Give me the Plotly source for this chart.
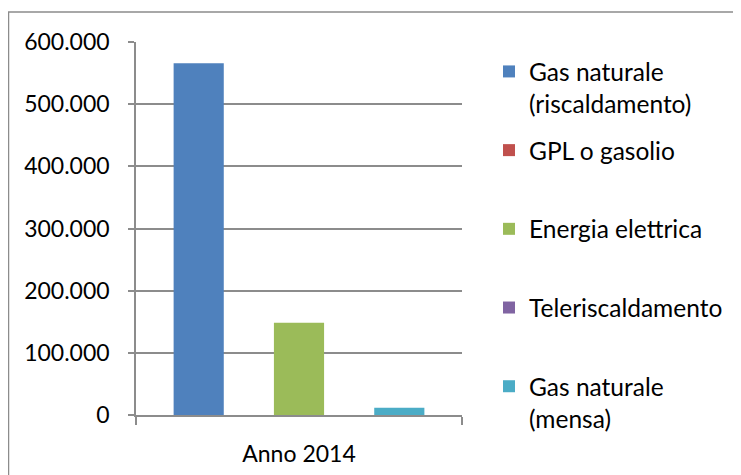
import plotly.graph_objects as go

categories = ["Anno 2014"]
series_names = [
    "Gas naturale<br>(riscaldamento)",
    "GPL o gasolio<br> ",
    "Energia elettrica<br> ",
    "Teleriscaldamento<br> ",
    "Gas naturale<br>(mensa)",
]
series_values = [566000, 0, 148500, 0, 11700]
series_colors = ["#4F81BD", "#C0504D", "#9BBB59", "#8064A2", "#4BACC6"]
y_ticks = [0, 100000, 200000, 300000, 400000, 500000, 600000]

FONT = "Lato"
OFF = 8  # page body margin
W, H = 741 - OFF, 475 - OFF
# plot area in window pixels
WL, WR, WT, WB = 136, 462, 42, 415
L, R, T, B = WL - OFF, WR - OFF, WT - OFF, WB - OFF

fig = go.Figure()
for i, (name, val, col) in enumerate(zip(series_names, series_values, series_colors)):
    fig.add_trace(go.Bar(
        x=categories, y=[val], name=name, legendgroup=f"g{i}",
        marker=dict(color=col, line=dict(width=0)),
    ))

def px_x(p):  # window px -> paper
    return (p - WL) / (WR - WL)

def px_y(p):
    return (WB - p) / (WB - WT)

fig.update_layout(
    width=W, height=H,
    margin=dict(l=L, r=W - R, t=T, b=H - B, pad=0, autoexpand=False),
    paper_bgcolor="white", plot_bgcolor="white",
    separators=",.",
    barmode="group", bargap=0.2308, bargroupgap=0,
    font=dict(family=FONT, size=23, color="#000000"),
    showlegend=True,
    legend=dict(
        x=px_x(489), y=1 - (49 - OFF) / H, yref="container",
        xanchor="left", yanchor="top", maxheight=1,
        tracegroupgap=12, valign="top", bgcolor="rgba(0,0,0,0)",
        font=dict(family=FONT, size=24.5, color="#000000"),
    ),
    xaxis=dict(
        showline=True, linecolor="#8C8C8C", linewidth=1.5,
        ticks="outside", tickson="boundaries", ticklen=8, tickcolor="#8C8C8C", tickwidth=1.5,
        showgrid=False, ticklabelstandoff=18,
        tickfont=dict(family=FONT, size=23, color="#000000"),
    ),
    yaxis=dict(
        range=[0, 600000], tickvals=y_ticks, tickformat=",d",
        showline=True, linecolor="#8C8C8C", linewidth=1.5,
        ticks="outside", ticklen=6, tickcolor="#8C8C8C", tickwidth=1.5,
        showgrid=True, gridcolor="#8C8C8C", gridwidth=1.5,
        zeroline=False, ticklabelstandoff=14,
        tickfont=dict(family=FONT, size=23, color="#000000"),
    ),
    shapes=[dict(
        type="rect", xref="paper", yref="paper",
        x0=px_x(8.5), y0=px_y(12), x1=px_x(760), y1=px_y(490),
        line=dict(color="#8C8C8C", width=1.5), fillcolor="rgba(0,0,0,0)", layer="below",
    )],
)

fig.write_html("out.html")
